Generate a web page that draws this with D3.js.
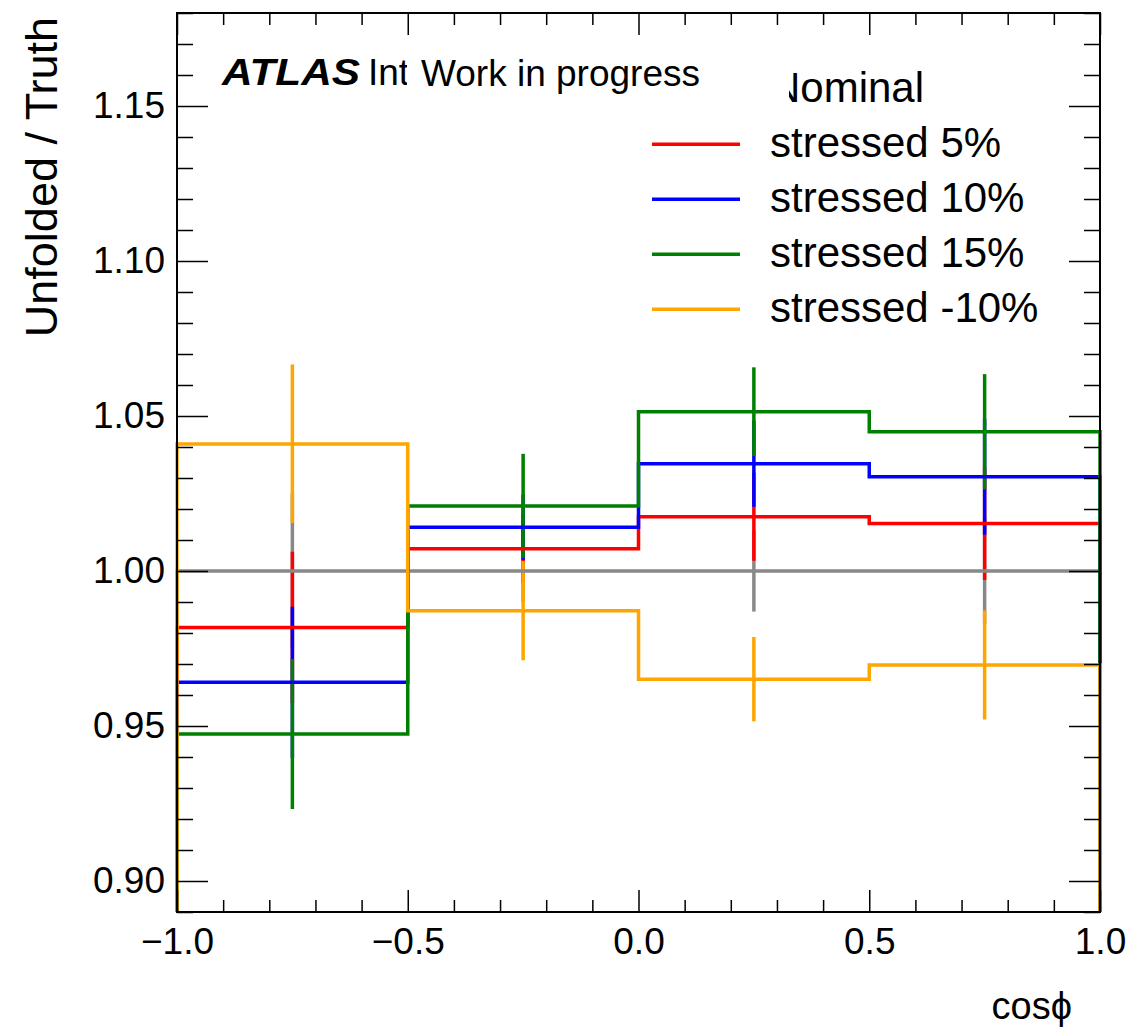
<!DOCTYPE html>
<html>
<head>
<meta charset="utf-8">
<script src="https://cdn.jsdelivr.net/npm/d3@7"></script>
<style>
  body { margin: 0; background: #fff; }
  svg { font-family: "Liberation Sans", Arial, Helvetica, sans-serif; }
</style>
</head>
<body>
<div id="chart"></div>
<script>
// bins in cos(phi)
const binEdges = [-1, -0.5, 0, 0.5, 1];
const seriesNames = ["Nominal", "stressed 5%", "stressed 10%", "stressed 15%", "stressed -10%"];
const seriesColors = ["#888888", "#ff0000", "#0000ff", "#008000", "#ffa500"];

const nominal      = [1.0000, 1.0000, 1.0000, 1.0000];
const nominalErr   = [0.0250, 0.0100, 0.0131, 0.0170];
const stressed5    = [0.9818, 1.0072, 1.0175, 1.0153];
const stressed5Err = [0.0244, 0.0110, 0.0142, 0.0182];
const stressed10    = [0.9641, 1.0141, 1.0346, 1.0304];
const stressed10Err = [0.0244, 0.0105, 0.0139, 0.0187];
const stressed15    = [0.9474, 1.0210, 1.0514, 1.0449];
const stressed15Err = [0.0242, 0.0168, 0.0143, 0.0186];
const stressedM10    = [1.0410, 0.9872, 0.9651, 0.9697];
const stressedM10Err = [0.0256, 0.0160, 0.0136, 0.0176];

const xMajorTicks = [-1.0, -0.5, 0.0, 0.5, 1.0];
const yMajorTicks = [0.90, 0.95, 1.00, 1.05, 1.10, 1.15];
const xDomain = [-1, 1];
const yDomain = [0.89, 1.18];

const xTitle = "cos\u03D5";
const yTitle = "Unfolded / Truth";

window.onload = function() {
    const width = 1129, height = 1029;
    const left = 177, right = 1100, top = 13, bottom = 912;
    const lw = 3.5;

    const values = [nominal, stressed5, stressed10, stressed15, stressedM10];
    const errors = [nominalErr, stressed5Err, stressed10Err, stressed15Err, stressedM10Err];

    const series = seriesNames.map((name, i) => ({
        name: name,
        color: seriesColors[i],
        bins: values[i].map((v, j) => ({
            lo: binEdges[j], hi: binEdges[j + 1],
            c: (binEdges[j] + binEdges[j + 1]) / 2,
            v: v, e: errors[i][j]
        }))
    }));

    const x = d3.scaleLinear().domain(xDomain).range([left, right]);
    const y = d3.scaleLinear().domain(yDomain).range([bottom, top]);

    const svg = d3.select('#chart').append('svg')
        .attr('width', width)
        .attr('height', height);

    svg.append('rect').attr('width', width).attr('height', height).attr('fill', '#fff');

    const plot = svg.append('g');

    // error bars first (drawn under the step lines)
    series.forEach(s => {
        plot.append('g').selectAll('line')
            .data(s.bins)
            .enter().append('line')
                .attr('x1', d => x(d.c))
                .attr('x2', d => x(d.c))
                .attr('y1', d => y(d.v - d.e))
                .attr('y2', d => y(d.v + d.e))
                .attr('stroke', s.color)
                .attr('stroke-width', lw);
    });

    // histogram step lines
    series.forEach(s => {
        const pts = [[x(binEdges[0]), y(yDomain[0])]];
        s.bins.forEach(b => {
            pts.push([x(b.lo), y(b.v)]);
            pts.push([x(b.hi), y(b.v)]);
        });
        pts.push([x(binEdges[binEdges.length - 1]), y(yDomain[0])]);
        plot.append('path')
            .attr('d', d3.line()(pts))
            .attr('fill', 'none')
            .attr('stroke', s.color)
            .attr('stroke-width', lw)
            .attr('stroke-linejoin', 'miter');
    });

    // axes
    const xMinor = d3.range(-10, 11).map(i => i / 10).filter(v => !xMajorTicks.some(m => Math.abs(m - v) < 1e-9));
    const yMinor = d3.range(89, 119).map(i => i / 100).filter(v => !yMajorTicks.some(m => Math.abs(m - v) < 1e-9));

    function styleAxis(g) {
        g.select('.domain').remove();
        g.selectAll('.tick line').attr('stroke', '#000').attr('stroke-width', 1.5);
        g.selectAll('.tick text').attr('fill', '#000').style('font-size', '37px');
    }

    svg.append('g').attr('transform', `translate(0,${bottom})`)
        .call(d3.axisBottom(x).tickValues(xMajorTicks).tickSizeInner(-22).tickSizeOuter(0).tickPadding(16).tickFormat(d3.format('.1f')))
        .call(styleAxis);
    svg.append('g').attr('transform', `translate(0,${bottom})`)
        .call(d3.axisBottom(x).tickValues(xMinor).tickSizeInner(-12).tickSizeOuter(0).tickFormat(''))
        .call(styleAxis);
    svg.append('g').attr('transform', `translate(0,${top})`)
        .call(d3.axisTop(x).tickValues(xMajorTicks).tickSizeInner(-22).tickSizeOuter(0).tickFormat(''))
        .call(styleAxis);
    svg.append('g').attr('transform', `translate(0,${top})`)
        .call(d3.axisTop(x).tickValues(xMinor).tickSizeInner(-12).tickSizeOuter(0).tickFormat(''))
        .call(styleAxis);

    svg.append('g').attr('transform', `translate(${left},0)`)
        .call(d3.axisLeft(y).tickValues(yMajorTicks).tickSizeInner(-31).tickSizeOuter(0).tickPadding(12).tickFormat(d3.format('.2f')))
        .call(styleAxis);
    svg.append('g').attr('transform', `translate(${left},0)`)
        .call(d3.axisLeft(y).tickValues(yMinor).tickSizeInner(-16).tickSizeOuter(0).tickFormat(''))
        .call(styleAxis);
    svg.append('g').attr('transform', `translate(${right},0)`)
        .call(d3.axisRight(y).tickValues(yMajorTicks).tickSizeInner(-31).tickSizeOuter(0).tickFormat(''))
        .call(styleAxis);
    svg.append('g').attr('transform', `translate(${right},0)`)
        .call(d3.axisRight(y).tickValues(yMinor).tickSizeInner(-16).tickSizeOuter(0).tickFormat(''))
        .call(styleAxis);

    // frame
    svg.append('rect')
        .attr('x', left).attr('y', top)
        .attr('width', right - left).attr('height', bottom - top)
        .attr('fill', 'none')
        .attr('stroke', '#000')
        .attr('stroke-width', 2);

    // axis titles
    svg.append('text')
        .attr('x', 1072).attr('y', 1019)
        .attr('text-anchor', 'end')
        .style('font-size', '38px')
        .text(xTitle);

    svg.append('text')
        .attr('transform', `translate(57, ${top + 4}) rotate(-90)`)
        .attr('text-anchor', 'end')
        .style('font-size', '45px')
        .text(yTitle);

    // ATLAS label
    svg.append('text')
        .attr('x', 222).attr('y', 85)
        .style('font-size', '37px')
        .style('font-weight', 'bold')
        .style('font-style', 'italic')
        .attr('textLength', 138)
        .attr('lengthAdjust', 'spacingAndGlyphs')
        .text('ATLAS');
    svg.append('text')
        .attr('x', 368).attr('y', 85)
        .style('font-size', '37px')
        .text('Internal');

    // legend
    const legendY = d3.scaleLinear().domain([0, 1]).range([89.3, 144.3]);
    const legend = svg.append('g').selectAll('g')
        .data(series)
        .enter().append('g')
            .attr('transform', (d, i) => `translate(0, ${legendY(i)})`);
    legend.append('line')
        .attr('x1', 652).attr('x2', 740)
        .attr('stroke', d => d.color)
        .attr('stroke-width', lw);
    legend.append('text')
        .attr('x', 770).attr('y', 13)
        .style('font-size', '42px')
        .text(d => d.name);

    // "Work in progress" with its white box
    svg.append('rect')
        .attr('x', 407).attr('y', 46)
        .attr('width', 382).attr('height', 74)
        .attr('fill', '#fff');
    svg.append('text')
        .attr('x', 421).attr('y', 86)
        .style('font-size', '37px')
        .text('Work in progress');
};
</script>
</body>
</html>
